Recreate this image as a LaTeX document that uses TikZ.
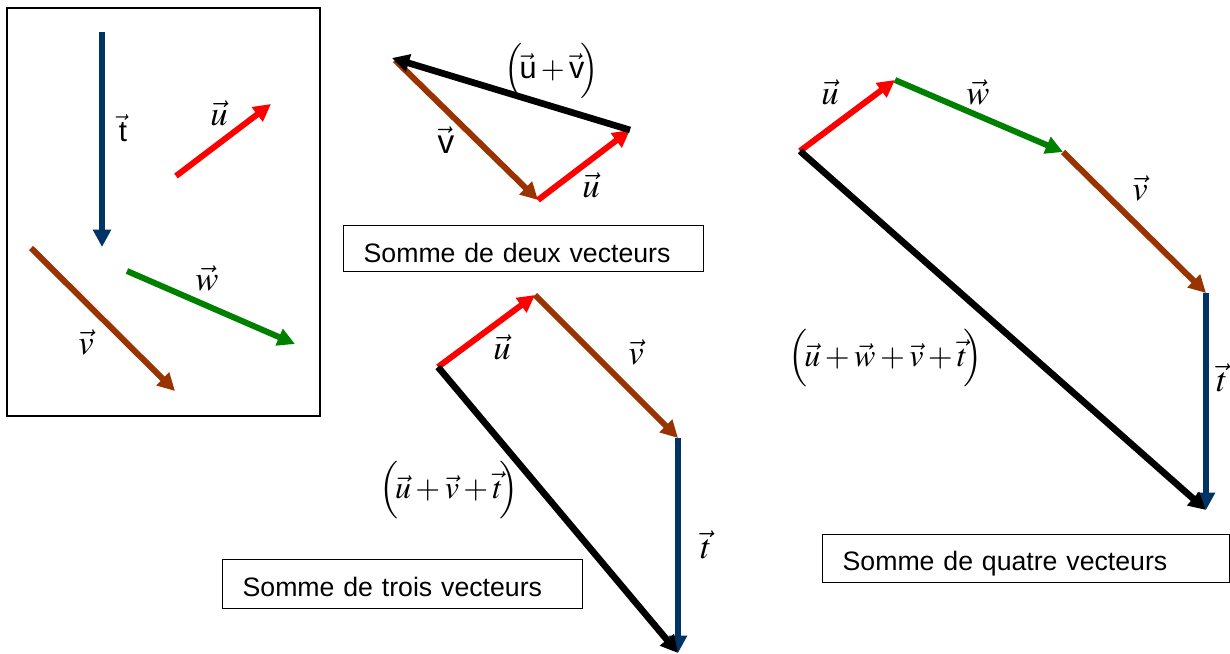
\documentclass[tikz,border=0pt]{standalone}
\usepackage{mathptmx}
\usepackage[no-math]{fontspec}
\setsansfont{Liberation Sans}
\usetikzlibrary{arrows.meta}

\definecolor{vred}{RGB}{255,0,0}
\definecolor{vnavy}{RGB}{0,51,102}
\definecolor{vbrown}{RGB}{153,51,0}
\definecolor{vgreen}{RGB}{0,128,0}

% big parentheses round a sum
\newcommand{\somme}[1]{\left(\rule[-13pt]{0pt}{36pt}\medmuskip=0.5mu\!#1\!\right)}

\begin{document}
\begin{tikzpicture}[
        x=0.75pt,
        y=-0.75pt,
        vec/.style={
            line width=4.5pt,
            -{Triangle[length=13pt,width=13pt]}
        },
        vu/.style={vec, draw=vred},
        vv/.style={vec, draw=vbrown},
        vw/.style={vec, draw=vgreen},
        vt/.style={vec, draw=vnavy},
        vs/.style={vec, draw=black, line width=5pt},
        lbl/.style={font=\fontsize{26}{30}\selectfont, inner sep=0pt},
        slbl/.style={font=\sffamily\fontsize{25}{30}\selectfont, inner sep=0pt},
        sum/.style={font=\fontsize{24}{28}\selectfont, inner sep=0pt},
        legend/.style={
            draw,
            line width=1pt,
            font=\sffamily\fontsize{20}{24}\selectfont,
            align=left,
            inner xsep=15pt,
            inner ysep=0pt,
            text height=18pt,
            text depth=0pt,
            anchor=north west
        }
    ]
    \useasboundingbox (0,0) rectangle (1230,653);

    % Les quatre vecteurs
    \draw[line width=1.1pt] (7,8) rectangle (320,416);

    \coordinate (t0) at (102,32);
    \coordinate (t1) at (102,247);
    \draw[vt] (t0) -- (t1);
    \node[slbl, font=\sffamily\fontsize{22}{26}\selectfont] (lt) at (123,128) {$\vec{\textsf{t}}$};

    \coordinate (u0) at (176,176);
    \coordinate (u1) at (271,104);
    \draw[vu] (u0) -- (u1);
    \node[lbl] (lu) at (219,113) {$\vec{u}$};

    \coordinate (v0) at (31,248);
    \coordinate (v1) at (175,391);
    \draw[vv] (v0) -- (v1);
    \node[lbl] (lv) at (86,342) {$\vec{v}$};

    \coordinate (w0) at (127,271);
    \coordinate (w1) at (295,344);
    \draw[vw] (w0) -- (w1);
    \node[lbl] (lw) at (207,278) {$\vec{w}$};

    % Somme de deux vecteurs
    \coordinate (a0) at (395,60);
    \coordinate (a1) at (538,200);
    \coordinate (a2) at (630,130);
    \coordinate (a3) at (392,58);
    \draw[vv] (a0) -- (a1);
    \draw[vu] (a1) -- (a2);
    \draw[vs] (a2) -- (a3);
    \node[slbl] (av) at (446,140) {$\vec{\textsf{v}}$};
    \node[lbl] (au) at (591,185) {$\vec{u}$};
    \node[slbl, font=\sffamily\fontsize{23}{28}\selectfont] (auv) at (552,71) {$\somme{\vec{\textsf{u}}+\vec{\textsf{v}}}$};
    \node[legend, minimum width=270pt, minimum height=34.5pt, text width=240pt, text height=20pt] (deux) at (343,225) {Somme de deux vecteurs};

    % Somme de trois vecteurs
    \coordinate (b0) at (438,367);
    \coordinate (b1) at (535,295);
    \coordinate (b2) at (678,438);
    \coordinate (b3) at (678,653);
    \draw[vu] (b0) -- (b1);
    \draw[vv] (b1) -- (b2);
    \draw[vt] (b2) -- (b3);
    \draw[vs] (b0) -- (b3);
    \node[lbl] (bu) at (502,347) {$\vec{u}$};
    \node[lbl] (bv) at (636,352) {$\vec{v}$};
    \node[lbl] (bt) at (706,545) {$\vec{t}$};
    \node[sum] (buvt) at (449,490) {$\somme{\vec{u}+\vec{v}+\vec{t}}$};
    \node[legend, minimum width=270pt, minimum height=36.75pt, text width=240pt] (trois) at (222,559) {Somme de trois vecteurs};

    % Somme de quatre vecteurs
    \coordinate (c0) at (800,151);
    \coordinate (c1) at (895,80);
    \coordinate (c2) at (1063,152);
    \coordinate (c3) at (1206,293);
    \coordinate (c4) at (1206,510);
    \draw[vu] (c0) -- (c1);
    \draw[vw] (c1) -- (c2);
    \draw[vv] (c2) -- (c3);
    \draw[vt] (c3) -- (c4);
    \draw[vs] (c0) -- (c4);
    \node[lbl] (cu) at (830,92) {$\vec{u}$};
    \node[lbl] (cw) at (978,92) {$\vec{w}$};
    \node[lbl] (cv) at (1140,188) {$\vec{v}$};
    \node[lbl] (ct) at (1222,378) {$\vec{t}$};
    \node[sum] (cuwvt) at (886,358) {$\somme{\vec{u}+\vec{w}+\vec{v}+\vec{t}}$};
    \node[legend, minimum width=305pt, minimum height=36pt, text width=275pt] (quatre) at (822,534) {Somme de quatre vecteurs};

\end{tikzpicture}
\end{document}
